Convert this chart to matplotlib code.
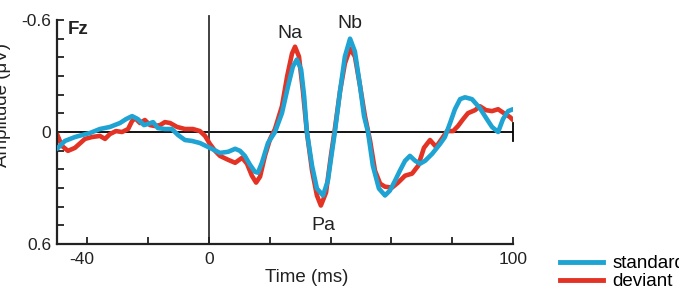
import matplotlib
matplotlib.use("Agg")
import matplotlib.pyplot as plt
import matplotlib.transforms as mtransforms
from matplotlib.lines import Line2D

plt.rcParams['font.family'] = ['Liberation Sans', 'DejaVu Sans']
plt.rcParams['axes.unicode_minus'] = False

# ---- data ----
std_t = [-50, -47.4, -44.1, -39.1, -35.9, -32.6, -29.3, -27.3, -25.3, -23.4, -21.4, -20.1, -18.4,
         -16.8, -14.5, -12.2, -10.2, -7.9, -5.6, -3.0, 0.3, 3.6, 6.3, 8.6, 10.2, 11.8, 13.5, 15.1,
         16.1, 17.4, 19.4, 21.7, 24.0, 26.0, 27.6, 28.9, 30.3, 31.3, 32.2, 33.9, 35.5, 37.5, 39.1,
         40.5, 41.4, 43.1, 44.7, 46.4, 48.0, 49.7, 51.0, 52.3, 53.9, 55.9, 57.9, 59.5, 61.2, 62.8,
         64.5, 66.1, 67.8, 69.4, 71.1, 73.4, 76.0, 77.6, 79.3, 80.9, 82.6, 84.2, 86.5, 89.1, 91.4,
         93.1, 95.1, 96.7, 98.4, 100]
std_v = [0.09, 0.048, 0.027, 0.005, -0.016, -0.027, -0.048, -0.069, -0.085, -0.069, -0.037, -0.043,
         -0.053, -0.021, -0.016, -0.016, 0.016, 0.043, 0.048, 0.059, 0.085, 0.112, 0.106, 0.090, 0.101,
         0.128, 0.176, 0.213, 0.218, 0.165, 0.059, 0.0, -0.101, -0.245, -0.351, -0.388, -0.335, -0.191,
         0.0, 0.181, 0.303, 0.340, 0.261, 0.101, 0.0, -0.218, -0.404, -0.5, -0.431, -0.245, -0.085,
         0.0, 0.181, 0.303, 0.340, 0.314, 0.261, 0.207, 0.154, 0.128, 0.154, 0.170, 0.154, 0.117,
         0.064, 0.027, -0.048, -0.122, -0.176, -0.186, -0.176, -0.128, -0.069, -0.027, 0.0, -0.069,
         -0.112, -0.122]

dev_t = [-50, -48.4, -46.4, -44.1, -40.8, -38.5, -35.9, -34.2, -32.6, -30.6, -28.6, -26.6, -25.3,
         -24.3, -22.7, -21.1, -19.4, -17.8, -16.1, -14.5, -12.8, -10.5, -7.9, -5.3, -3.0, -1.3, 0.3,
         2.0, 3.6, 6.3, 8.6, 10.9, 12.5, 14.1, 15.5, 16.8, 18.4, 20.1, 21.7, 24.0, 25.7, 27.3, 28.3,
         29.6, 30.9, 32.2, 33.9, 35.5, 36.8, 38.5, 40.1, 41.4, 43.1, 44.7, 46.4, 48.0, 49.7, 51.3,
         53.0, 54.6, 56.3, 57.9, 60.2, 62.2, 64.5, 66.8, 68.8, 70.7, 72.7, 74.7, 76.3, 78.3, 80.3,
         81.9, 83.6, 85.2, 87.5, 89.1, 91.1, 93.1, 95.1, 97.0, 99.0, 100]
dev_v = [0.011, 0.074, 0.101, 0.085, 0.037, 0.027, 0.021, 0.037, 0.011, -0.005, 0.0, -0.016, -0.059,
         -0.074, -0.048, -0.064, -0.037, -0.032, -0.037, -0.053, -0.048, -0.027, -0.016, -0.016,
         -0.005, 0.021, 0.064, 0.101, 0.128, 0.149, 0.165, 0.138, 0.170, 0.234, 0.271, 0.239, 0.128,
         0.037, -0.016, -0.138, -0.298, -0.420, -0.457, -0.404, -0.218, 0.0, 0.207, 0.340, 0.394,
         0.324, 0.128, -0.016, -0.218, -0.367, -0.447, -0.404, -0.245, -0.085, 0.048, 0.207, 0.277,
         0.293, 0.298, 0.271, 0.234, 0.223, 0.181, 0.085, 0.043, 0.080, 0.043, -0.005, -0.005,
         -0.032, -0.069, -0.101, -0.117, -0.138, -0.117, -0.112, -0.122, -0.101, -0.080, -0.064]

series_names = ['standard', 'deviant']
x_ticks = [-40, -20, 0, 20, 40, 60, 80, 100]
x_ticklabels = ['-40', '', '0', '', '', '', '', '100']
y_ticks = [-0.6, -0.5, -0.4, -0.3, -0.2, -0.1, 0, 0.1, 0.2, 0.3, 0.4, 0.5, 0.6]
y_ticklabels = ['-0.6', '', '', '', '', '', '0', '', '', '', '', '', '0.6']

BLUE = '#1ea3d3'
RED = '#e33325'

W, H = 679, 294
fig = plt.figure(figsize=(W / 100, H / 100), dpi=100)
ax = fig.add_axes([57 / W, 1 - 244 / H, (513 - 57) / W, (244 - 20) / H])

ax.set_xlim(-50, 100)
ax.set_ylim(0.6, -0.6)

ax.axhline(0, color='black', lw=1.3, zorder=1)
ax.plot([0, 0], [0.6, -0.62], color='#333333', lw=1.3, clip_on=False, zorder=1)
ax.plot([100, 100], [-0.05, 0.05], color='black', lw=1.3, clip_on=False, zorder=1)

ax.plot(dev_t, dev_v, color=RED, lw=3.3, solid_capstyle='round', solid_joinstyle='round', zorder=2)
ax.plot(std_t, std_v, color=BLUE, lw=3.3, solid_capstyle='round', solid_joinstyle='round', zorder=3)

for s in ['top', 'right']:
    ax.spines[s].set_visible(False)
for s in ['left', 'bottom']:
    ax.spines[s].set_linewidth(1.6)
    ax.spines[s].set_color('#222222')

ax.set_xticks(x_ticks)
ax.set_xticklabels(x_ticklabels)
ax.set_yticks(y_ticks)
ax.set_yticklabels(y_ticklabels)
ax.tick_params(axis='both', direction='in', length=5, width=1.3, labelsize=12.5, colors='#222222')
ax.tick_params(axis='x', pad=6)
ax.tick_params(axis='y', pad=4)

# the "-40" label sits slightly left of its tick in the reference
lbl = ax.get_xticklabels()[0]
lbl.set_transform(lbl.get_transform() + mtransforms.ScaledTranslation(-6 / 100, 0, fig.dpi_scale_trans))

ax.text(-46.5, -0.55, 'Fz', fontsize=13.5, fontweight='bold', ha='left', va='center', color='#222222')
ax.text(26.7, -0.53, 'Na', fontsize=14, ha='center', va='center', color='#222222')
ax.text(46.4, -0.58, 'Nb', fontsize=14, ha='center', va='center', color='#222222')
ax.text(37.5, 0.50, 'Pa', fontsize=14, ha='center', va='center', color='#222222')

fig.text(307 / W, 1 - 278 / H, 'Time (ms)', fontsize=13.5, ha='center', va='center', color='#222222')
fig.text(3 / W, 1 - 105 / H, 'Amplitude (μV)', fontsize=13.5, ha='center', va='center',
         rotation=90, color='#222222')

handles = [Line2D([], [], color=BLUE, lw=3.5), Line2D([], [], color=RED, lw=3.5)]
fig.legend(handles, series_names, loc='upper left', bbox_to_anchor=(560 / W, 1 - 255 / H),
           frameon=False, fontsize=13.5, handlelength=2.3, handletextpad=0.5,
           labelspacing=0.05, borderpad=0, borderaxespad=0)

fig.savefig('out.png', dpi=100)
